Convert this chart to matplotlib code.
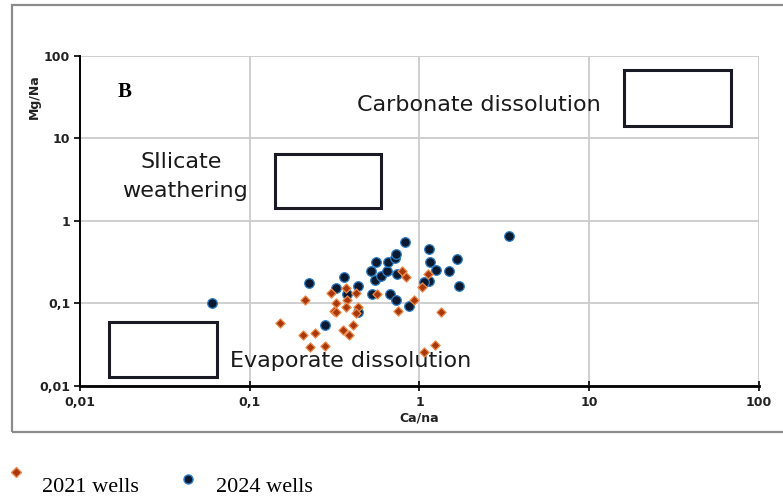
import numpy as np
import matplotlib
matplotlib.use("agg")
import matplotlib.pyplot as plt
from matplotlib.patches import Rectangle
from matplotlib.lines import Line2D
from matplotlib.ticker import FixedLocator, FixedFormatter, NullLocator

# Ca/Na and Mg/Na molar ratios
ca_na_2021 = [0.150, 0.213, 0.207, 0.241, 0.225, 0.276, 0.303, 0.367, 0.424, 0.375,
              0.323, 0.367, 0.436, 0.312, 0.323, 0.424, 0.404, 0.353, 0.382, 0.559,
              0.791, 0.835, 0.922, 0.745, 1.04, 1.12, 1.34, 1.24, 1.06]
mg_na_2021 = [0.0582, 0.110, 0.0413, 0.0433, 0.0293, 0.0306, 0.134, 0.154, 0.134, 0.110,
              0.100, 0.0895, 0.091, 0.0807, 0.078, 0.077, 0.0555, 0.0471, 0.0413, 0.130,
              0.248, 0.207, 0.110, 0.0807, 0.159, 0.226, 0.0778, 0.0313, 0.0259]

ca_na_2024 = [0.223, 0.357, 0.323, 0.375, 0.436, 0.437, 0.276, 0.551, 0.519, 0.545,
              0.595, 0.645, 0.654, 0.713, 0.729, 0.824, 0.739, 0.527, 0.668, 0.725,
              0.869, 1.13, 1.156, 1.254, 1.135, 1.06, 1.49, 1.66, 1.70, 0.0596, 3.39]
mg_na_2024 = [0.175, 0.207, 0.154, 0.129, 0.162, 0.078, 0.0555, 0.319, 0.248, 0.191,
              0.216, 0.248, 0.319, 0.351, 0.396, 0.558, 0.225, 0.130, 0.130, 0.109,
              0.093, 0.452, 0.319, 0.258, 0.186, 0.180, 0.248, 0.348, 0.162, 0.100, 0.655]

# end-member fields: (x0, x1, y0, y1)
fields = {
    "carbonate": (16.1, 68.3, 14.2, 67.3),
    "silicate": (0.140, 0.593, 1.42, 6.46),
    "evaporite": (0.0149, 0.0642, 0.0129, 0.0589),
}

decades = [0.01, 0.1, 1, 10, 100]
decade_labels = ["0,01", "0,1", "1", "10", "100"]

fig = plt.figure(figsize=(7.83, 4.99), dpi=100)
ax = fig.add_axes([0.1022, 0.2265, 0.8671, 0.6613])

ax.set_xscale("log")
ax.set_yscale("log")
ax.set_xlim(0.01, 100)
ax.set_ylim(0.01, 100)

for axis in (ax.xaxis, ax.yaxis):
    axis.set_major_locator(FixedLocator(decades))
    axis.set_major_formatter(FixedFormatter(decade_labels))
    axis.set_minor_locator(NullLocator())

ax.grid(True, color="#cccccc", linewidth=1.3)
ax.set_axisbelow(True)
for side in ("top", "right"):
    ax.spines[side].set_visible(False)
ax.spines["bottom"].set_linewidth(2.0)
ax.spines["left"].set_linewidth(1.4)
ax.tick_params(axis="x", direction="inout", length=7, width=1.2, pad=4,
               labelsize=9, labelcolor="#222222")
ax.tick_params(axis="y", direction="out", length=4, width=1.2, pad=3,
               labelsize=9, labelcolor="#222222")
for lab in ax.get_xticklabels() + ax.get_yticklabels():
    lab.set_fontweight("bold")

for x0, x1, y0, y1 in fields.values():
    ax.add_patch(Rectangle((x0, y0), x1 - x0, y1 - y0, fill=False,
                           edgecolor="#1a1a24", linewidth=2.2, zorder=3))

ax.scatter(ca_na_2024, mg_na_2024, marker="o", s=48, color="#0b1a30",
           edgecolors="#2f7fc8", linewidths=0.9, zorder=4)
ax.scatter(ca_na_2021, mg_na_2021, marker="D", s=22, color="#a8380c",
           edgecolors="#ec8a4a", linewidths=0.9, zorder=5)

ann = dict(family="DejaVu Sans", fontsize=16, color="#1a1a1a", transform=ax.transAxes)
ax.text(0.587, 0.852, "Carbonate dissolution", ha="center", va="center", **ann)
ax.text(0.149, 0.678, "SIlicate", ha="center", va="center", **ann)
ax.text(0.155, 0.591, "weathering", ha="center", va="center", **ann)
ax.text(0.221, 0.077, "Evaporate dissolution", ha="left", va="center", **ann)
ax.text(0.065, 0.89, "B", ha="center", va="center", family="Liberation Serif",
        fontsize=15, fontweight="bold", transform=ax.transAxes)

fig.text(419 / 783, 1 - 418 / 499, "Ca/na", ha="center", va="center",
         fontsize=9, fontweight="bold", color="#222222")
fig.text(34.5 / 783, 1 - 97 / 499, "Mg/Na", ha="center", va="center",
         rotation=90, fontsize=9, fontweight="bold", color="#222222")

# outer frame, runs off the right edge
fig.add_artist(Rectangle((11.5 / 783, 1 - 432 / 499), 1.2, (432 - 5) / 499,
                         transform=fig.transFigure, fill=False,
                         edgecolor="#8c8c8c", linewidth=1.6))

# legend below the frame
fig.add_artist(Line2D([16 / 783], [1 - 472 / 499], marker="D", markersize=5.5,
                      color="#a8380c", markeredgecolor="#ec8a4a",
                      transform=fig.transFigure))
fig.add_artist(Line2D([188 / 783], [1 - 479 / 499], marker="o", markersize=6.5,
                      color="#0b1a30", markeredgecolor="#2f7fc8",
                      transform=fig.transFigure))
fig.text(42 / 783, 1 - 487 / 499, "2021 wells", ha="left", va="center",
         family="Liberation Serif", fontsize=16)
fig.text(216 / 783, 1 - 487 / 499, "2024 wells", ha="left", va="center",
         family="Liberation Serif", fontsize=16)

fig.savefig("out.png", dpi=100)
